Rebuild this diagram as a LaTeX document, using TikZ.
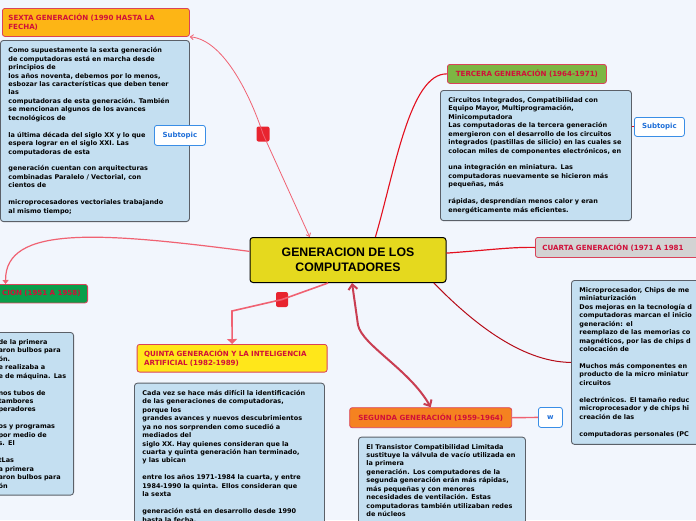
\documentclass[tikz,border=0pt]{standalone}
\usepackage{fontspec}
\setmainfont{DejaVu Sans}
\newfontfamily\titlefont{Liberation Sans}
\usetikzlibrary{arrows.meta,positioning}
\hyphenpenalty=10000
\definecolor{bgpage}{HTML}{F2F6FD}
\definecolor{notefill}{HTML}{C4DFF1}
\definecolor{notedraw}{HTML}{5B6068}
\definecolor{headtext}{HTML}{D0103A}
\definecolor{headdraw}{HTML}{D9435A}
\definecolor{sextafill}{HTML}{FDB515}
\definecolor{tercerafill}{HTML}{7DB643}
\definecolor{cuartafill}{HTML}{D3D3D3}
\definecolor{primerafill}{HTML}{0A9E4A}
\definecolor{quintafill}{HTML}{FFE71A}
\definecolor{segundafill}{HTML}{F58220}
\definecolor{centerfill}{HTML}{E5D91E}
\definecolor{subdraw}{HTML}{3A8EE6}
\definecolor{subtext}{HTML}{1F6FD8}
\definecolor{markred}{HTML}{E8242F}
\definecolor{linkpink}{HTML}{F06272}
\definecolor{linkred}{HTML}{E3101F}
\definecolor{linkdark}{HTML}{C93E52}

\begin{document}
\begin{tikzpicture}[
  x=1pt, y=-1pt,
  font=\bfseries\fontsize{6.5}{8.45}\selectfont,
  gen/.style={draw=headdraw, line width=0.8pt, rounded corners=2.5pt, anchor=north west, text=headtext, font=\bfseries\fontsize{7.1}{9}\selectfont, inner xsep=7pt, inner ysep=0pt, minimum height=19pt},
  note/.style={draw=notedraw, fill=notefill, line width=0.9pt, rounded corners=3pt, anchor=north west, align=left, inner xsep=8pt, inner ysep=7pt},
  subtopic/.style={draw=subdraw, fill=white, line width=0.8pt, rounded corners=2.5pt, anchor=north west, text=subtext, font=\bfseries\fontsize{7}{8}\selectfont, minimum width=51pt, minimum height=20pt, inner sep=0pt},
  marker/.style={fill=markred, rounded corners=2pt, minimum width=13pt, minimum height=15pt, inner sep=0pt},
  link/.style={linkpink, line width=0.8pt}
]
\useasboundingbox (0,0) rectangle (696,520);
\clip (0,0) rectangle (696,520);
\fill[bgpage] (0,0) rectangle (696,520);

\node[draw=black, fill=centerfill, line width=1pt, rounded corners=3pt, anchor=north west, minimum width=196pt, minimum height=45pt, align=center, font=\titlefont\bfseries\fontsize{12.3}{15}\selectfont] (centro) at (249.5,237) {GENERACION DE LOS\\COMPUTADORES};

\node[gen, fill=sextafill, text width=175pt, align=left, minimum height=28pt, inner xsep=6pt] (sextahead) at (2,8) {SEXTA GENERACIÓN (1990 HASTA LA\\FECHA)};
\node[note, text width=173pt] (sextanote) at (0,40) {Como supuestamente la sexta generación\\de computadoras está en marcha desde\\principios de\\los años noventa, debemos por lo menos,\\esbozar las características que deben tener\\las\\computadoras de esta generación. También\\se mencionan algunos de los avances\\tecnológicos de\\[8.45pt]la última década del siglo XX y lo que\\espera lograr en el siglo XXI. Las\\computadoras de esta\\[8.45pt]generación cuentan con arquitecturas\\combinadas Paralelo / Vectorial, con\\cientos de\\[8.45pt]microprocesadores vectoriales trabajando\\al mismo tiempo;};
\node[subtopic] (sub6) at (154,125) {Subtopic};
\node[marker] (m6) at (263,134) {};

\node[gen, fill=tercerafill, text width=145pt, align=center] (tercerahead) at (447,64) {TERCERA GENERACIÓN (1964-1971)};
\node[note, text width=175pt] (terceranote) at (440,90) {Circuitos Integrados, Compatibilidad con\\Equipo Mayor, Multiprogramación,\\Minicomputadora\\Las computadoras de la tercera generación\\emergieron con el desarrollo de los circuitos\\integrados (pastillas de silicio) en las cuales se\\colocan miles de componentes electrónicos, en\\[8.45pt]una integración en miniatura. Las\\computadoras nuevamente se hicieron más\\pequeñas, más\\[8.45pt]rápidas, desprendían menos calor y eran\\energéticamente más eficientes.};
\node[subtopic, minimum width=50pt, minimum height=19pt] (sub3) at (634,117) {Subtopic};

\node[gen, fill=cuartafill, text width=200pt, align=left, minimum height=20pt] (cuartahead) at (535,237) {CUARTA GENERACIÓN (1971 A 1981};
\node[note, text width=200pt] (cuartanote) at (571,280) {Microprocesador, Chips de me\\miniaturización\\Dos mejoras en la tecnología d\\computadoras marcan el inicio\\generación: el\\reemplazo de las memorias co\\magnéticos, por las de chips d\\colocación de\\[8.45pt]Muchos más componentes en\\producto de la micro miniatur\\circuitos\\[8.45pt]electrónicos. El tamaño reduc\\microprocesador y de chips hi\\creación de las\\[8.45pt]computadoras personales (PC};

\node[gen, fill=primerafill, anchor=north east, text width=150pt, align=right, minimum height=18.5pt] (primerahead) at (88,284) {CION (1951 A 1958)};
\node[note, anchor=north east, text width=69pt, inner xsep=6pt] (primeranote) at (74,332) {de la primera\\aron bulbos para\\ón.\\e realizaba a\\e de máquina. Las\\[8.45pt]nos tubos de\\tambores\\peradores\\[8.45pt]os y programas\\por medio de\\s. El\\[8.45pt]tLas\\a primera\\aron bulbos para\\ón};

\node[gen, fill=quintafill, text width=176pt, align=left, minimum height=27.7pt] (quintahead) at (136.7,344) {QUINTA GENERACIÓN Y LA INTELIGENCIA\\ARTIFICIAL (1982-1989)};
\node[note, text width=174pt] (quintanote) at (134,382.7) {Cada vez se hace más difícil la identificación\\de las generaciones de computadoras,\\porque los\\grandes avances y nuevos descubrimientos\\ya no nos sorprenden como sucedió a\\mediados del\\siglo XX. Hay quienes consideran que la\\cuarta y quinta generación han terminado,\\y las ubican\\[8.45pt]entre los años 1971-1984 la cuarta, y entre\\1984-1990 la quinta. Ellos consideran que\\la sexta\\[8.45pt]generación está en desarrollo desde 1990\\hasta la fecha.};
\node[marker, minimum width=12pt] (m5) at (282,299.5) {};
\coordinate (qbend) at (232,311);

\node[gen, fill=segundafill, text width=148pt, align=center, minimum height=20pt] (segundahead) at (349.3,407.3) {SEGUNDA GENERACIÓN (1959-1964)};
\node[subtopic, minimum width=24pt, minimum height=20pt] (whead) at (538,407) {w};
\node[note, text width=151pt] (segundanote) at (358,436.7) {El Transistor Compatibilidad Limitada\\sustituye la válvula de vacío utilizada en\\la primera\\generación. Los computadores de la\\segunda generación erán más rápidas,\\más pequeñas y con menores\\necesidades de ventilación. Estas\\computadoras también utilizaban redes\\de núcleos};

\draw[link, {Straight Barb[length=3pt,width=5pt]}-{Straight Barb[length=3pt,width=5pt]}] (sextahead.south east) .. controls (225,40) and (252,100) .. (m6.center) -- (centro.149);
\draw[linkred, line width=1.1pt] (centro.40) .. controls (395,170) and (410,73) .. (tercerahead.west);
\draw[linkred, line width=1pt] (sub3.west -| terceranote.east) -- (sub3.west);
\draw[linkred, line width=1.2pt] (centro.4) .. controls (490,250) and (510,247) .. (cuartahead.west);
\draw[linkred!80!black, line width=1pt] (centro.-15) .. controls (470,320) and (520,362) .. (cuartanote.west);
\draw[linkpink, line width=1.2pt, -{Triangle[length=4pt,width=6pt]}] (centro.175) .. controls (100,232) and (5,225) .. (primerahead.north);
\draw[linkpink, line width=1.6pt, -{Triangle[length=5pt,width=10pt]}] (centro.-131) -- (m5.center) -- (qbend) -- (quintahead.north);
\draw[linkdark, line width=2pt, {Straight Barb[length=5pt,width=9pt]}-{Straight Barb[length=5pt,width=9pt]}] (centro.-80) -- (358,325) .. controls (362,345) and (410,370) .. (segundahead.north);
\draw[linkpink, line width=1.4pt] (segundahead.east) -- (whead.west);
\end{tikzpicture}
\end{document}
